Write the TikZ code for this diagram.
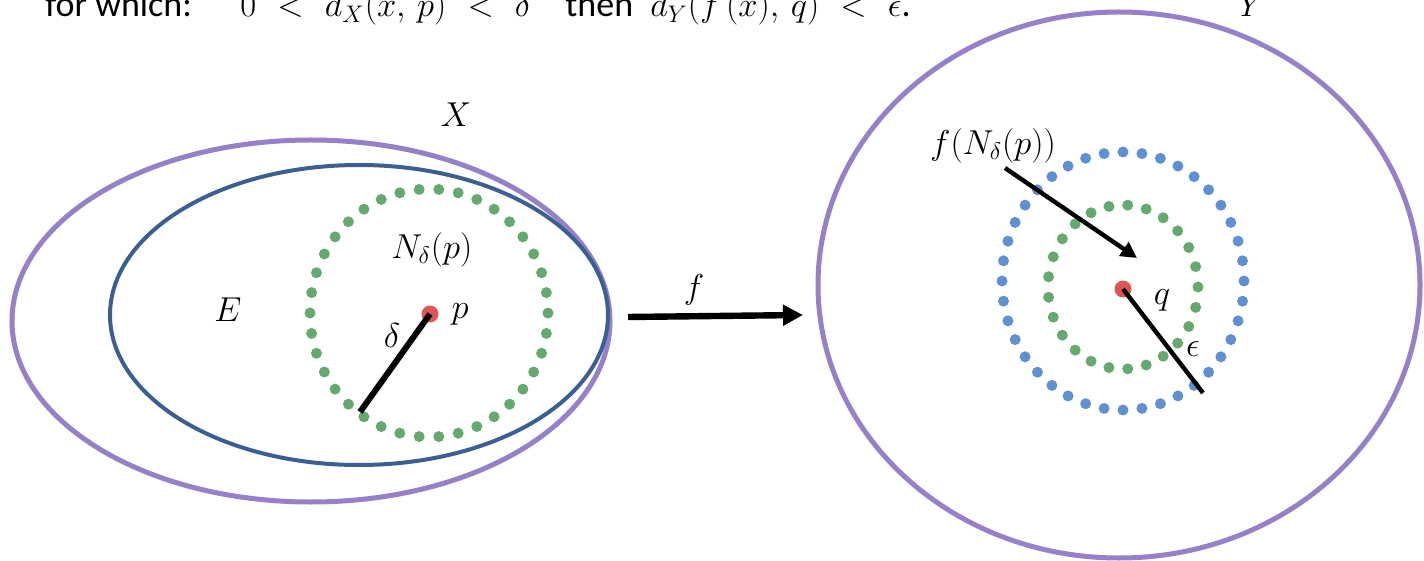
\documentclass[tikz,border=0pt]{standalone}
\usepackage{fontspec}
\setmainfont{Carlito}
\usetikzlibrary{arrows.meta}
\definecolor{outerP}{RGB}{150,128,200}
\definecolor{innerB}{RGB}{60,95,145}
\definecolor{dotG}{RGB}{100,170,110}
\definecolor{dotB}{RGB}{95,145,210}
\definecolor{ptR}{RGB}{222,85,85}
\begin{document}
\begin{tikzpicture}[x=0.5pt,y=-0.5pt,
  lbl/.style={inner sep=0pt,font=\fontsize{18.5}{22}\selectfont},
  toplbl/.style={inner sep=0pt,font=\fontsize{18}{22}\selectfont},
  outerset/.style={draw=outerP,line width=2.5pt},
  innerset/.style={draw=innerB,line width=2pt},
  pt/.style={circle,fill=ptR,inner sep=0pt,minimum size=8.5pt},
  radius line/.style={line width=3pt,black},
  maparrow/.style={line width=3.2pt,-{Triangle[length=10pt,width=10pt]}},
  ptrarrow/.style={line width=2.2pt,-{Triangle[length=8pt,width=8pt]}}]
\useasboundingbox (0,0) rectangle (1424,561);
% sets
\draw[outerset] (311,321) ellipse [x radius=299, y radius=181];
\draw[innerset] (359,315) ellipse [x radius=249, y radius=150];
\draw[outerset] (1119,285) ellipse [x radius=301, y radius=273];
% dotted neighbourhoods
\foreach \i in {0,...,37}
  \fill[dotG] ({429+119*cos(\i*360/38)},{313+124*sin(\i*360/38)}) circle[radius=5.5];
\foreach \i in {0,...,39}
  \fill[dotB] ({1123+121*cos(\i*9)},{281+129*sin(\i*9)}) circle[radius=5.5];
\foreach \i in {0,...,24}
  \fill[dotG] ({1123+75*cos(\i*360/25)},{287+82*sin(\i*360/25)}) circle[radius=5.5];
% points
\node[pt] (p) at (430,314) {};
\node[pt] (q) at (1123,289) {};
\coordinate (dend) at (360,412);
\coordinate (eend) at (1203,393);
\draw[radius line] (p.center) -- (dend);
\draw[radius line,line width=2.2pt] (q.center) -- (eend);
% map arrow
\coordinate (fs) at (628,317);
\coordinate (fe) at (803,315);
\draw[maparrow] (fs) -- (fe);
% labels
\node[toplbl,anchor=base west] (t1) at (45,17) {for which:};
\node[toplbl,anchor=base west] (t2) at (240,17) {\thickmuskip=11mu $0<d_X(x,\,p)<\delta$};
\node[toplbl,anchor=base west] (t3) at (565,17) {then};
\node[toplbl,anchor=base west] (t4) at (650,17) {\thickmuskip=11mu $d_Y\bigl(f\,(x),\,q\bigr)<\epsilon$.};
\node[toplbl,anchor=base] (Y) at (1252,17) {$Y$};
\node[lbl] (X) at (456,115) {$X$};
\node[lbl] (E) at (228,310) {$E$};
\node[lbl] (N) at (432,250) {$N_\delta(p)$};
\node[lbl] (pl) at (460,314) {$p$};
\node[lbl] (dl) at (392,335) {$\delta$};
\node[lbl] (fl) at (694,290) {$f$};
\node[lbl] (fN) at (993,146) {$f(N_\delta(p))$};
\node[lbl] (ql) at (1162,300) {$q$};
\node[lbl] (el) at (1193,349) {$\epsilon$};
\coordinate (fNs) at (1005,168);
\coordinate (fNe) at (1137,258);
\draw[ptrarrow] (fNs) -- (fNe);
\end{tikzpicture}
\end{document}
